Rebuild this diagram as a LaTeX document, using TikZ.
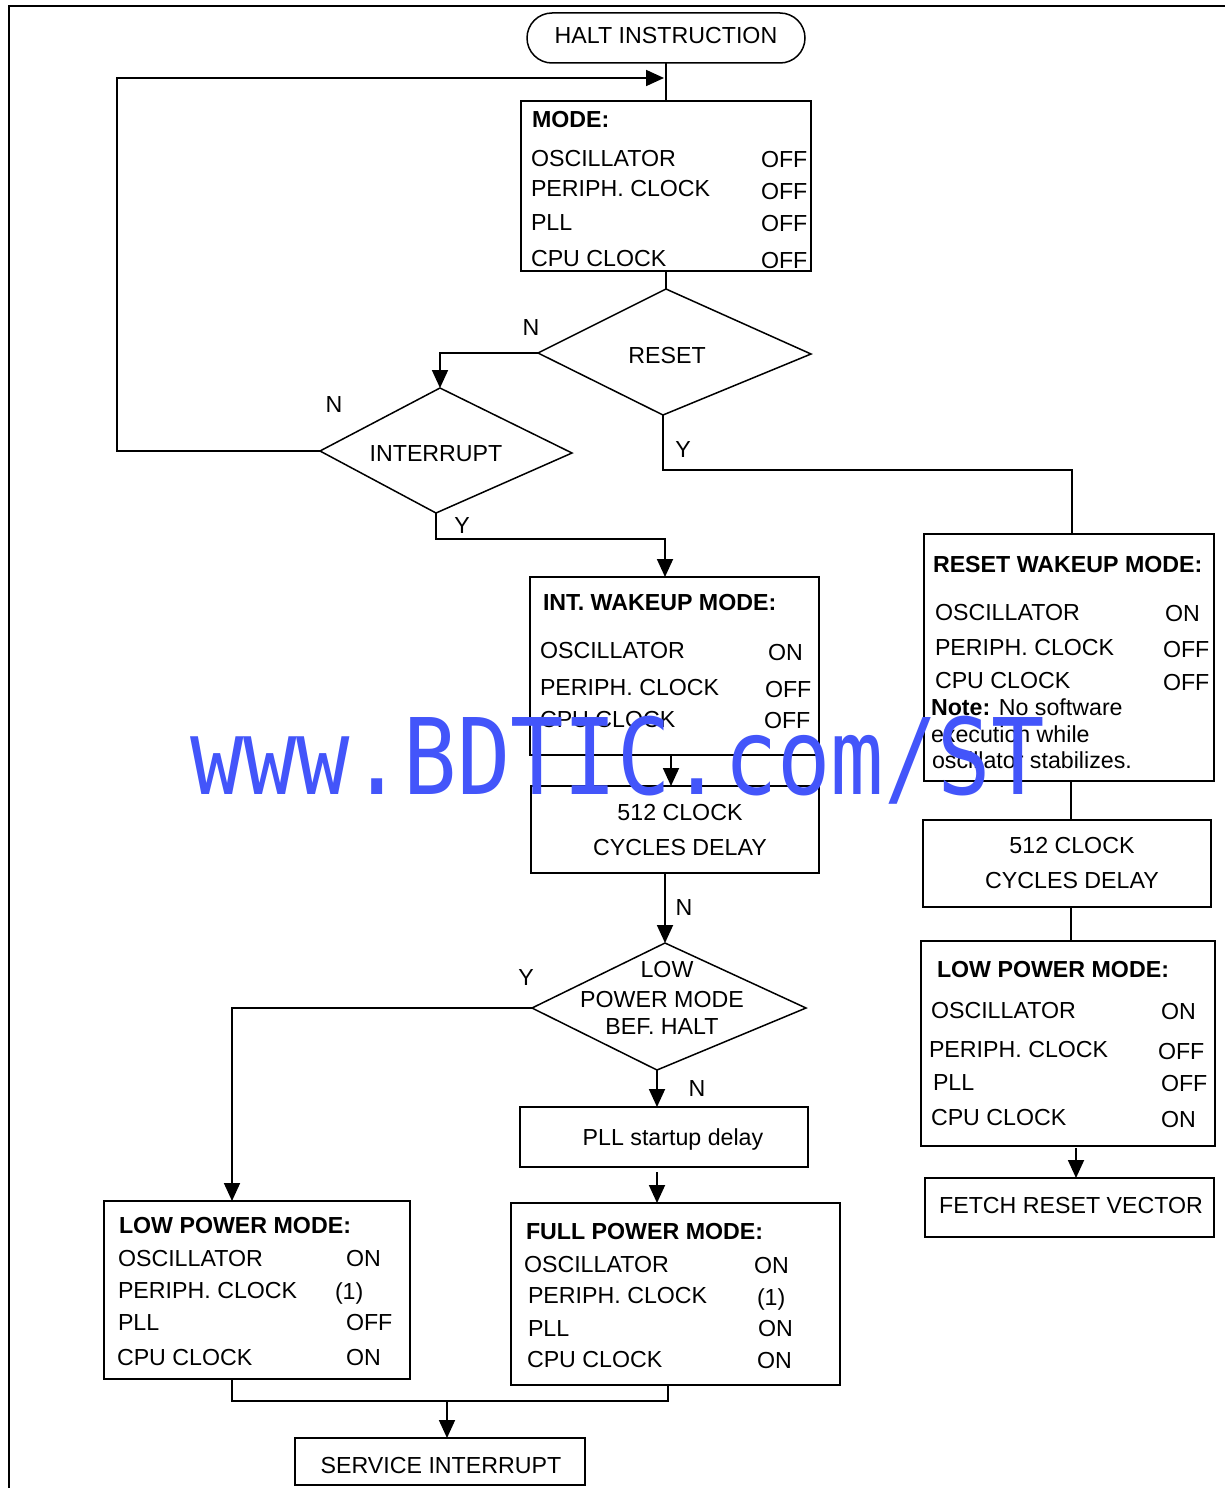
\documentclass[tikz,border=0pt]{standalone}
\usepackage{fontspec}
\setmainfont{Liberation Sans}
\newfontfamily\wmfont{DejaVu Sans Mono}
\usetikzlibrary{arrows.meta}
\definecolor{wmblue}{RGB}{67,85,250}
\begin{document}
\begin{tikzpicture}[x=1pt,y=-1pt,
  every node/.style={inner sep=0pt, outer sep=0pt, font=\fontsize{23.2}{35}\selectfont},
  box/.style={draw, line width=2pt, align=center},
  lbl/.style={anchor=base west},
  ttl/.style={anchor=base west, font=\fontsize{23.2}{35}\selectfont\bfseries},
  ctr/.style={anchor=base},
  yn/.style={anchor=center},
  conn/.style={line width=1.8pt},
  arr/.style={conn, -{Triangle[length=18pt,width=16pt]}},
  dia/.style={line width=1.5pt, line join=miter},
]
\useasboundingbox (0,0) rectangle (1224,1488);
\path[fill=white] (0,0) rectangle (1224,1488);

% outer frame
\draw[line width=2.5pt] (9,1490) -- (9,6) -- (1226,6);

% ---------- boxes ----------
\node[box, line width=1.5pt, rounded corners=25pt, minimum width=278pt, minimum height=50pt] (halt) at (666,38) {};
\node[ctr] (halttxt) at (666,43.5) {HALT INSTRUCTION};
\node[box, minimum width=290pt, minimum height=170pt] (mode) at (666,186) {};
\node[box, minimum width=289pt, minimum height=178pt] (iw) at (674.5,666) {};
\node[box, minimum width=288pt, minimum height=87pt] (dly1) at (675,829.5) {};
\node[ctr] (dly1a) at (680,820) {512 CLOCK};
\node[ctr] (dly1b) at (680,855) {CYCLES DELAY};
\node[box, minimum width=288pt, minimum height=60pt] (pll) at (664,1137) {};
\node[ctr] (plltxt) at (673,1145) {PLL startup delay};
\node[box, minimum width=329pt, minimum height=182pt] (full) at (675.5,1294) {};
\node[box, minimum width=306pt, minimum height=178pt] (lp) at (257,1290) {};
\node[box, minimum width=290pt, minimum height=47pt] (svc) at (440,1461.5) {};
\node[ctr] (svctxt) at (441,1473) {SERVICE INTERRUPT};
\node[box, minimum width=290pt, minimum height=247pt] (rw) at (1069,657.5) {};
\node[box, minimum width=288pt, minimum height=87pt] (dly2) at (1067,863.5) {};
\node[ctr] (dly2a) at (1072,853) {512 CLOCK};
\node[ctr] (dly2b) at (1072,888) {CYCLES DELAY};
\node[box, minimum width=294pt, minimum height=205pt] (lp2) at (1068,1043.5) {};
\node[box, minimum width=289pt, minimum height=59pt] (fetch) at (1069.5,1207.5) {};
\node[ctr] (fetchtxt) at (1071,1213) {FETCH RESET VECTOR};

% ---------- MODE box text ----------
\node[ttl] (m0) at (532,127) {MODE:};
\node[lbl] (m1) at (531,166) {OSCILLATOR};
\node[lbl] (m1v) at (761,167) {OFF};
\node[lbl] (m2) at (531,196) {PERIPH. CLOCK};
\node[lbl] (m2v) at (761,199) {OFF};
\node[lbl] (m3) at (531,230) {PLL};
\node[lbl] (m3v) at (761,231) {OFF};
\node[lbl] (m4) at (531,266) {CPU CLOCK};
\node[lbl] (m4v) at (761,268) {OFF};

% ---------- INT WAKEUP text ----------
\node[ttl] (w0) at (543,610) {INT. WAKEUP MODE:};
\node[lbl] (w1) at (540,658) {OSCILLATOR};
\node[lbl] (w1v) at (768,660) {ON};
\node[lbl] (w2) at (540,695) {PERIPH. CLOCK};
\node[lbl] (w2v) at (765,697) {OFF};
\node[lbl] (w3) at (540,727) {CPU CLOCK};
\node[lbl] (w3v) at (764,728) {OFF};

% ---------- RESET WAKEUP text ----------
\node[ttl] (r0) at (933,572) {RESET WAKEUP MODE:};
\node[lbl] (r1) at (935,620) {OSCILLATOR};
\node[lbl] (r1v) at (1165,621) {ON};
\node[lbl] (r2) at (935,655) {PERIPH. CLOCK};
\node[lbl] (r2v) at (1163,657) {OFF};
\node[lbl] (r3) at (935,688) {CPU CLOCK};
\node[lbl] (r3v) at (1163,690) {OFF};
\node[lbl] (r4) at (931,715) {\textbf{Note:} No software};
\node[lbl] (r5) at (931,742) {execution while};
\node[lbl] (r6) at (932,768) {oscillator stabilizes.};

% ---------- right LOW POWER text ----------
\node[ttl] (q0) at (937,977) {LOW POWER MODE:};
\node[lbl] (q1) at (931,1018) {OSCILLATOR};
\node[lbl] (q1v) at (1161,1019) {ON};
\node[lbl] (q2) at (929,1057) {PERIPH. CLOCK};
\node[lbl] (q2v) at (1158,1059) {OFF};
\node[lbl] (q3) at (933,1090) {PLL};
\node[lbl] (q3v) at (1161,1091) {OFF};
\node[lbl] (q4) at (931,1125) {CPU CLOCK};
\node[lbl] (q4v) at (1161,1127) {ON};

% ---------- left LOW POWER text ----------
\node[ttl] (l0) at (119,1233) {LOW POWER MODE:};
\node[lbl] (l1) at (118,1266) {OSCILLATOR};
\node[lbl] (l1v) at (346,1266) {ON};
\node[lbl] (l2) at (118,1298) {PERIPH. CLOCK};
\node[lbl] (l2v) at (335,1299) {(1)};
\node[lbl] (l3) at (118,1330) {PLL};
\node[lbl] (l3v) at (346,1330) {OFF};
\node[lbl] (l4) at (117,1365) {CPU CLOCK};
\node[lbl] (l4v) at (346,1365) {ON};

% ---------- FULL POWER text ----------
\node[ttl] (f0) at (526,1239) {FULL POWER MODE:};
\node[lbl] (f1) at (524,1272) {OSCILLATOR};
\node[lbl] (f1v) at (754,1273) {ON};
\node[lbl] (f2) at (528,1303) {PERIPH. CLOCK};
\node[lbl] (f2v) at (757,1305) {(1)};
\node[lbl] (f3) at (528,1336) {PLL};
\node[lbl] (f3v) at (758,1336) {ON};
\node[lbl] (f4) at (527,1367) {CPU CLOCK};
\node[lbl] (f4v) at (757,1368) {ON};

% ---------- decisions ----------
\coordinate (rT) at (666,289);
\coordinate (rR) at (811,354);
\coordinate (rB) at (663,415);
\coordinate (rL) at (538,353);
\draw[dia] (rT) -- (rR) -- (rB) -- (rL) -- cycle;
\node (rtxt) at (667,356) {RESET};

\coordinate (iT) at (440,388);
\coordinate (iR) at (572,453);
\coordinate (iB) at (436,513);
\coordinate (iL) at (320,451);
\draw[dia] (iT) -- (iR) -- (iB) -- (iL) -- cycle;
\node (itxt) at (436,454) {INTERRUPT};

\coordinate (lT) at (665,943);
\coordinate (lR) at (806,1008);
\coordinate (lB) at (657,1070);
\coordinate (lL) at (532,1008);
\draw[dia] (lT) -- (lR) -- (lB) -- (lL) -- cycle;
\node[ctr] (lt1) at (667,977) {LOW};
\node[ctr] (lt2) at (662,1007) {POWER MODE};
\node[ctr] (lt3) at (662,1034) {BEF. HALT};

% ---------- Y / N labels ----------
\node[yn] (n1) at (531,328) {N};
\node[yn] (n2) at (334,404.5) {N};
\node[yn] (y1) at (683,450) {Y};
\node[yn] (y2) at (462,526) {Y};
\node[yn] (n3) at (684,908) {N};
\node[yn] (y3) at (526,978) {Y};
\node[yn] (n4) at (697,1089) {N};

% ---------- connector points ----------
\coordinate (loopA) at (117,451);
\coordinate (loopB) at (117,78);
\coordinate (loopin) at (664,78);
\coordinate (rY) at (663,470);
\coordinate (rwin) at (1072,534);
\coordinate (iY) at (436,539);
\coordinate (iwin) at (665,577);
\coordinate (iwout) at (671,755);
\coordinate (d1in) at (671,786);
\coordinate (d1out) at (665,873);
\coordinate (lpin) at (232,1201);
\coordinate (pllin) at (657,1107);
\coordinate (pllout) at (657,1172);
\coordinate (fullin) at (657,1203);
\coordinate (lpout) at (232,1379);
\coordinate (bl1) at (232,1401);
\coordinate (bl2) at (668,1401);
\coordinate (fullout) at (668,1385);
\coordinate (bm) at (447,1401);
\coordinate (svcin) at (447,1438);
\coordinate (rwout) at (1071,781);
\coordinate (d2in) at (1071,820);
\coordinate (d2out) at (1071,907);
\coordinate (lp2in) at (1071,941);
\coordinate (lp2out) at (1076,1148);
\coordinate (fetchin) at (1076,1178);

% ---------- connectors ----------
\draw[conn] (halt.south) -- (mode.north);
\draw[arr] (iL) -- (loopA) -- (loopB) -- (loopin);
\draw[conn] (mode.south) -- (rT);
\draw[arr] (rL) -| (iT);
\draw[conn] (rB) -- (rY) -| (rwin);
\draw[arr] (iB) -- (iY) -| (iwin);
\draw[arr] (iwout) -- (d1in);
\draw[arr] (d1out) -- (lT);
\draw[arr] (lL) -| (lpin);
\draw[arr] (lB) -- (pllin);
\draw[arr] (pllout) -- (fullin);
\draw[conn] (lpout) -- (bl1) -- (bl2) -- (fullout);
\draw[arr] (bm) -- (svcin);
\draw[conn] (rwout) -- (d2in);
\draw[conn] (d2out) -- (lp2in);
\draw[arr] (lp2out) -- (fetchin);

% ---------- watermark ----------
\node[anchor=base west, text=wmblue, font=\wmfont\fontsize{105.6}{110}\selectfont, xscale=0.84] (wm) at (190,794) {www.BDTIC.com/ST};
\end{tikzpicture}
\end{document}
